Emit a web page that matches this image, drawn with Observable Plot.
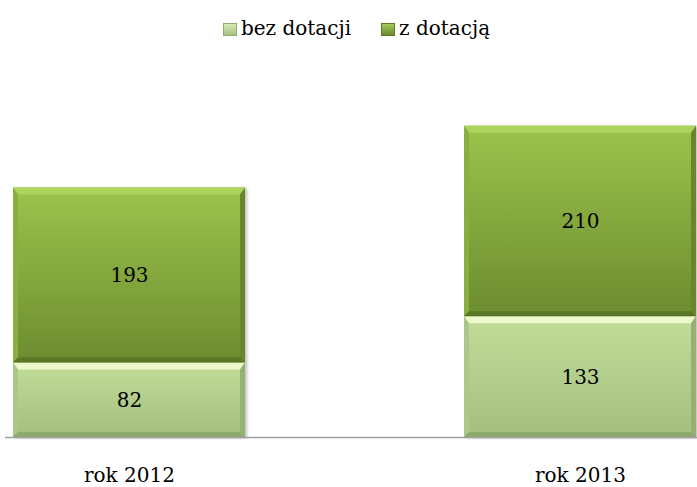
<!DOCTYPE html>
<html>
<head>
<meta charset="utf-8">
<script src="https://cdn.jsdelivr.net/npm/d3@7"></script>
<script src="https://cdn.jsdelivr.net/npm/@observablehq/plot@0.6"></script>
<style>
  html, body { margin: 0; padding: 0; background: #fff; }
  body { width: 697px; height: 487px; overflow: hidden; font-family: "DejaVu Serif", serif; }
  #legend { height: 55px; display: flex; justify-content: center; align-items: flex-start; padding-left: 16px; box-sizing: border-box; }
  .item { display: flex; align-items: center; margin-top: 16px; font-size: 20px; color: #000; }
  .item + .item { margin-left: 30px; }
  .sw { width: 14px; height: 13px; margin-right: 4px; box-sizing: border-box; margin-top: 3px; }
  #chart svg { display: block; }
</style>
</head>
<body>
<div id="legend"></div>
<div id="chart"></div>
<script>
const categories = ["rok 2012", "rok 2013"];
const seriesNames = ["bez dotacji", "z dotacją"];
const bezDotacji = [82, 133];
const zDotacja = [193, 210];
const yMax = 400;

const data = [];
categories.forEach((c, i) => {
  data.push({year: c, series: seriesNames[0], value: bezDotacji[i]});
  data.push({year: c, series: seriesNames[1], value: zDotacja[i]});
});

const styles = {
  "bez dotacji": {grad: "gLight", top: "#eef8cc", face0: "#c2dd99", face1: "#a3bf7e", left: "#abc78a", right: "#95b172", bottom: "#8da96c", sw: "linear-gradient(#d6eab6, #a6c280)", swb: "#8fab6e"},
  "z dotacją": {grad: "gDark", top: "#add35c", face0: "#9cc34c", face1: "#6c8c2f", left: "#88af40", right: "#67862b", bottom: "#5a7725", sw: "linear-gradient(#a4ca55, #6a8a2e)", swb: "#5e7b27"}
};

// legend
const legend = d3.select("#legend");
seriesNames.forEach(s => {
  const it = legend.append("div").attr("class", "item");
  it.append("div").attr("class", "sw")
    .style("background", styles[s].sw)
    .style("border", "1px solid " + styles[s].swb);
  it.append("span").text(s);
});

const chart = Plot.plot({
  width: 697,
  height: 432,
  marginLeft: 5,
  marginRight: 0,
  marginTop: 19,
  marginBottom: 50,
  style: {fontFamily: "'DejaVu Serif', serif", background: "transparent"},
  x: {domain: categories, paddingInner: 0.486, paddingOuter: 0.01, align: 0.855, label: null, axis: null},
  y: {domain: [0, yMax], axis: null},
  color: {domain: seriesNames, range: seriesNames.map(s => "url(#" + styles[s].grad + ")")},
  marks: [
    Plot.barY(data, {x: "year", y: "value", z: "series", fill: "series", order: seriesNames, className: "bars"}),
    Plot.ruleY([0], {stroke: "#a0a0a0", strokeWidth: 1.6}),
    Plot.text(data, Plot.stackY({x: "year", y: "value", z: "series", text: d => String(d.value), order: seriesNames, fontSize: 20, fill: "#000", className: "vals"})),
    Plot.axisX({tickSize: 0, tickPadding: 30, fontSize: 20, fill: "#000", label: null})
  ]
});

document.getElementById("chart").appendChild(chart);

// gradients & shadow filter
const svg = d3.select(chart);
const defs = svg.insert("defs", ":first-child");
seriesNames.forEach(s => {
  const st = styles[s];
  const g = defs.append("linearGradient").attr("id", st.grad).attr("x1", 0).attr("y1", 0).attr("x2", 0).attr("y2", 1);
  g.append("stop").attr("offset", "0%").attr("stop-color", st.face0);
  g.append("stop").attr("offset", "100%").attr("stop-color", st.face1);
});
const f = defs.append("filter").attr("id", "shadow").attr("x", "-5%").attr("y", "-5%").attr("width", "115%").attr("height", "115%");
f.append("feDropShadow").attr("dx", 2).attr("dy", 1).attr("stdDeviation", 1.5).attr("flood-color", "#000").attr("flood-opacity", 0.25);

// bevel decoration derived from the rendered bars
const barGroup = svg.select("g.bars");
barGroup.attr("filter", "url(#shadow)");
barGroup.selectAll("rect").each(function() {
  const r = d3.select(this);
  const x = +r.attr("x"), y = +r.attr("y"), w = +r.attr("width"), h = +r.attr("height");
  const fill = r.attr("fill");
  const s = seriesNames.find(n => fill === "url(#" + styles[n].grad + ")") || seriesNames[0];
  const st = styles[s];
  const bt = 7, bs = 5, bb = 5;
  const parent = d3.select(this.parentNode);
  const poly = (pts, c) => parent.append("polygon").attr("points", pts.map(p => p.join(",")).join(" ")).attr("fill", c);
  poly([[x, y], [x + w, y], [x + w - bs, y + bt], [x + bs, y + bt]], st.top);
  poly([[x, y], [x + bs, y + bt], [x + bs, y + h - bb], [x, y + h]], st.left);
  poly([[x + w, y], [x + w, y + h], [x + w - bs, y + h - bb], [x + w - bs, y + bt]], st.right);
  poly([[x, y + h], [x + bs, y + h - bb], [x + w - bs, y + h - bb], [x + w, y + h]], st.bottom);
});
</script>
</body>
</html>
